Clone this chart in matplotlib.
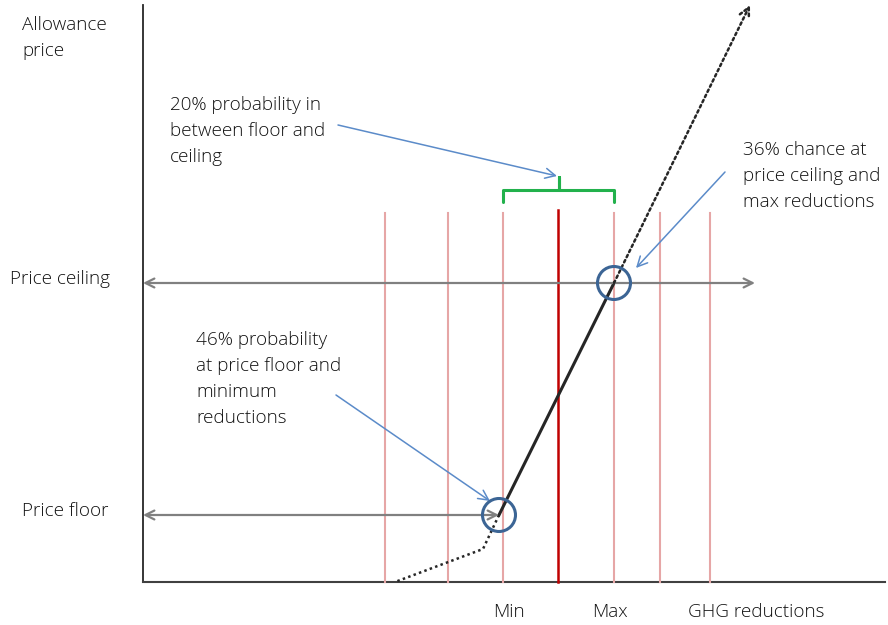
import matplotlib
matplotlib.use('Agg')
import matplotlib.pyplot as plt
from matplotlib.patches import Circle

# ─── Diagram geometry (pixel-like units, y grows downward) ───────────
axis_x, axis_top, axis_bottom, axis_right = 143, 5, 582, 885
band_x = [385, 448, 503, 614, 660, 710]     # pale red scenario lines
mid_x = 558                                  # central (red) line
band_top = 211

ceiling_y, floor_y = 283, 515
ceiling_arrow = (143, 755)
floor_arrow = (143, 499)

solid_x = [499, 614]
solid_y = [515, 283]
dotted_up_x = [614, 750]
dotted_up_y = [283, 5]
dotted_low_x = [499, 483, 395]
dotted_low_y = [515, 549, 582]

circles = [(614, 283), (499, 515)]
bracket_x = [503, 614]
bracket_y, bracket_tip = 190, 177

FONT = ['Open Sans', 'DejaVu Sans']
fs = 13.6
fw = 'light'
ls = 1.55
txt = '#111111'
gray = '#808080'
blue = '#5b8bc9'

fig = plt.figure(figsize=(8.88, 6.25), dpi=100)
ax = fig.add_axes([0, 0, 1, 1])
ax.set_xlim(0, 888)
ax.set_ylim(625, 0)
ax.axis('off')

# axes
ax.plot([axis_x, axis_x], [axis_top, axis_bottom], color='#262626', lw=1.3)
ax.plot([axis_x, axis_right], [axis_bottom, axis_bottom], color='#404040', lw=1.5)

# scenario lines
for x in band_x:
    ax.plot([x, x], [band_top + 2, axis_bottom], color='#e6a6a6', lw=1.5)
ax.plot([mid_x, mid_x], [band_top - 1, axis_bottom], color='#c00000', lw=1.8)

# floor / ceiling arrows
for y, (x0, x1) in [(ceiling_y, ceiling_arrow), (floor_y, floor_arrow)]:
    ax.annotate('', xy=(x1, y), xytext=(x0, y),
                arrowprops=dict(arrowstyle='<->', color=gray, lw=1.6,
                                mutation_scale=16, shrinkA=0, shrinkB=0))

# supply response
ax.plot(solid_x, solid_y, color='#262626', lw=2.2)
ax.plot(dotted_low_x, dotted_low_y, color='#262626', lw=1.8, ls=(0, (1, 1.3)))
ax.annotate('', xy=(dotted_up_x[1], dotted_up_y[1]),
            xytext=(dotted_up_x[0], dotted_up_y[0]),
            arrowprops=dict(arrowstyle='->', color='#262626', lw=1.8,
                            linestyle=(0, (1, 1.3)), mutation_scale=18,
                            shrinkA=0, shrinkB=0))

for cx, cy in circles:
    ax.add_patch(Circle((cx, cy), 16.5, fill=False, ec='#3c6595', lw=2.2, zorder=5))

# green bracket
bx0, bx1 = bracket_x
bm = (bx0 + bx1) / 2
ax.plot([bx0, bx0, bm, bm, bm, bx1, bx1],
        [bracket_y + 12, bracket_y, bracket_y, bracket_tip, bracket_y, bracket_y, bracket_y + 12],
        color='#22b14c', lw=2.2, solid_joinstyle='round', solid_capstyle='round')

# callouts
callouts = [((338, 125), (557, 176)), ((336, 395), (490, 501)), ((725, 172), (636, 268))]
for (x0, y0), (x1, y1) in callouts:
    ax.annotate('', xy=(x1, y1), xytext=(x0, y0),
                arrowprops=dict(arrowstyle='->', color=blue, lw=1.1,
                                mutation_scale=18, shrinkA=0, shrinkB=0))

# labels
kw = dict(fontsize=fs, family=FONT, color=txt, fontweight=fw, linespacing=ls)
ax.text(22, 38, 'Allowance\nprice', va='center', **kw)
ax.text(10, 279, 'Price ceiling', va='center', **kw)
ax.text(22, 511, 'Price floor', va='center', **kw)
ax.text(509, 612, 'Min', ha='center', va='center', **kw)
ax.text(610, 612, 'Max', ha='center', va='center', **kw)
ax.text(756, 612, 'GHG reductions', ha='center', va='center', **kw)
ax.text(170, 131, '20% probability in\nbetween floor and\nceiling', va='center', **kw)
ax.text(743, 176, '36% chance at\nprice ceiling and\nmax reductions', va='center', **kw)
ax.text(196, 379, '46% probability\nat price floor and\nminimum\nreductions', va='center', **kw)

fig.savefig('out.png', dpi=100, facecolor='white')
